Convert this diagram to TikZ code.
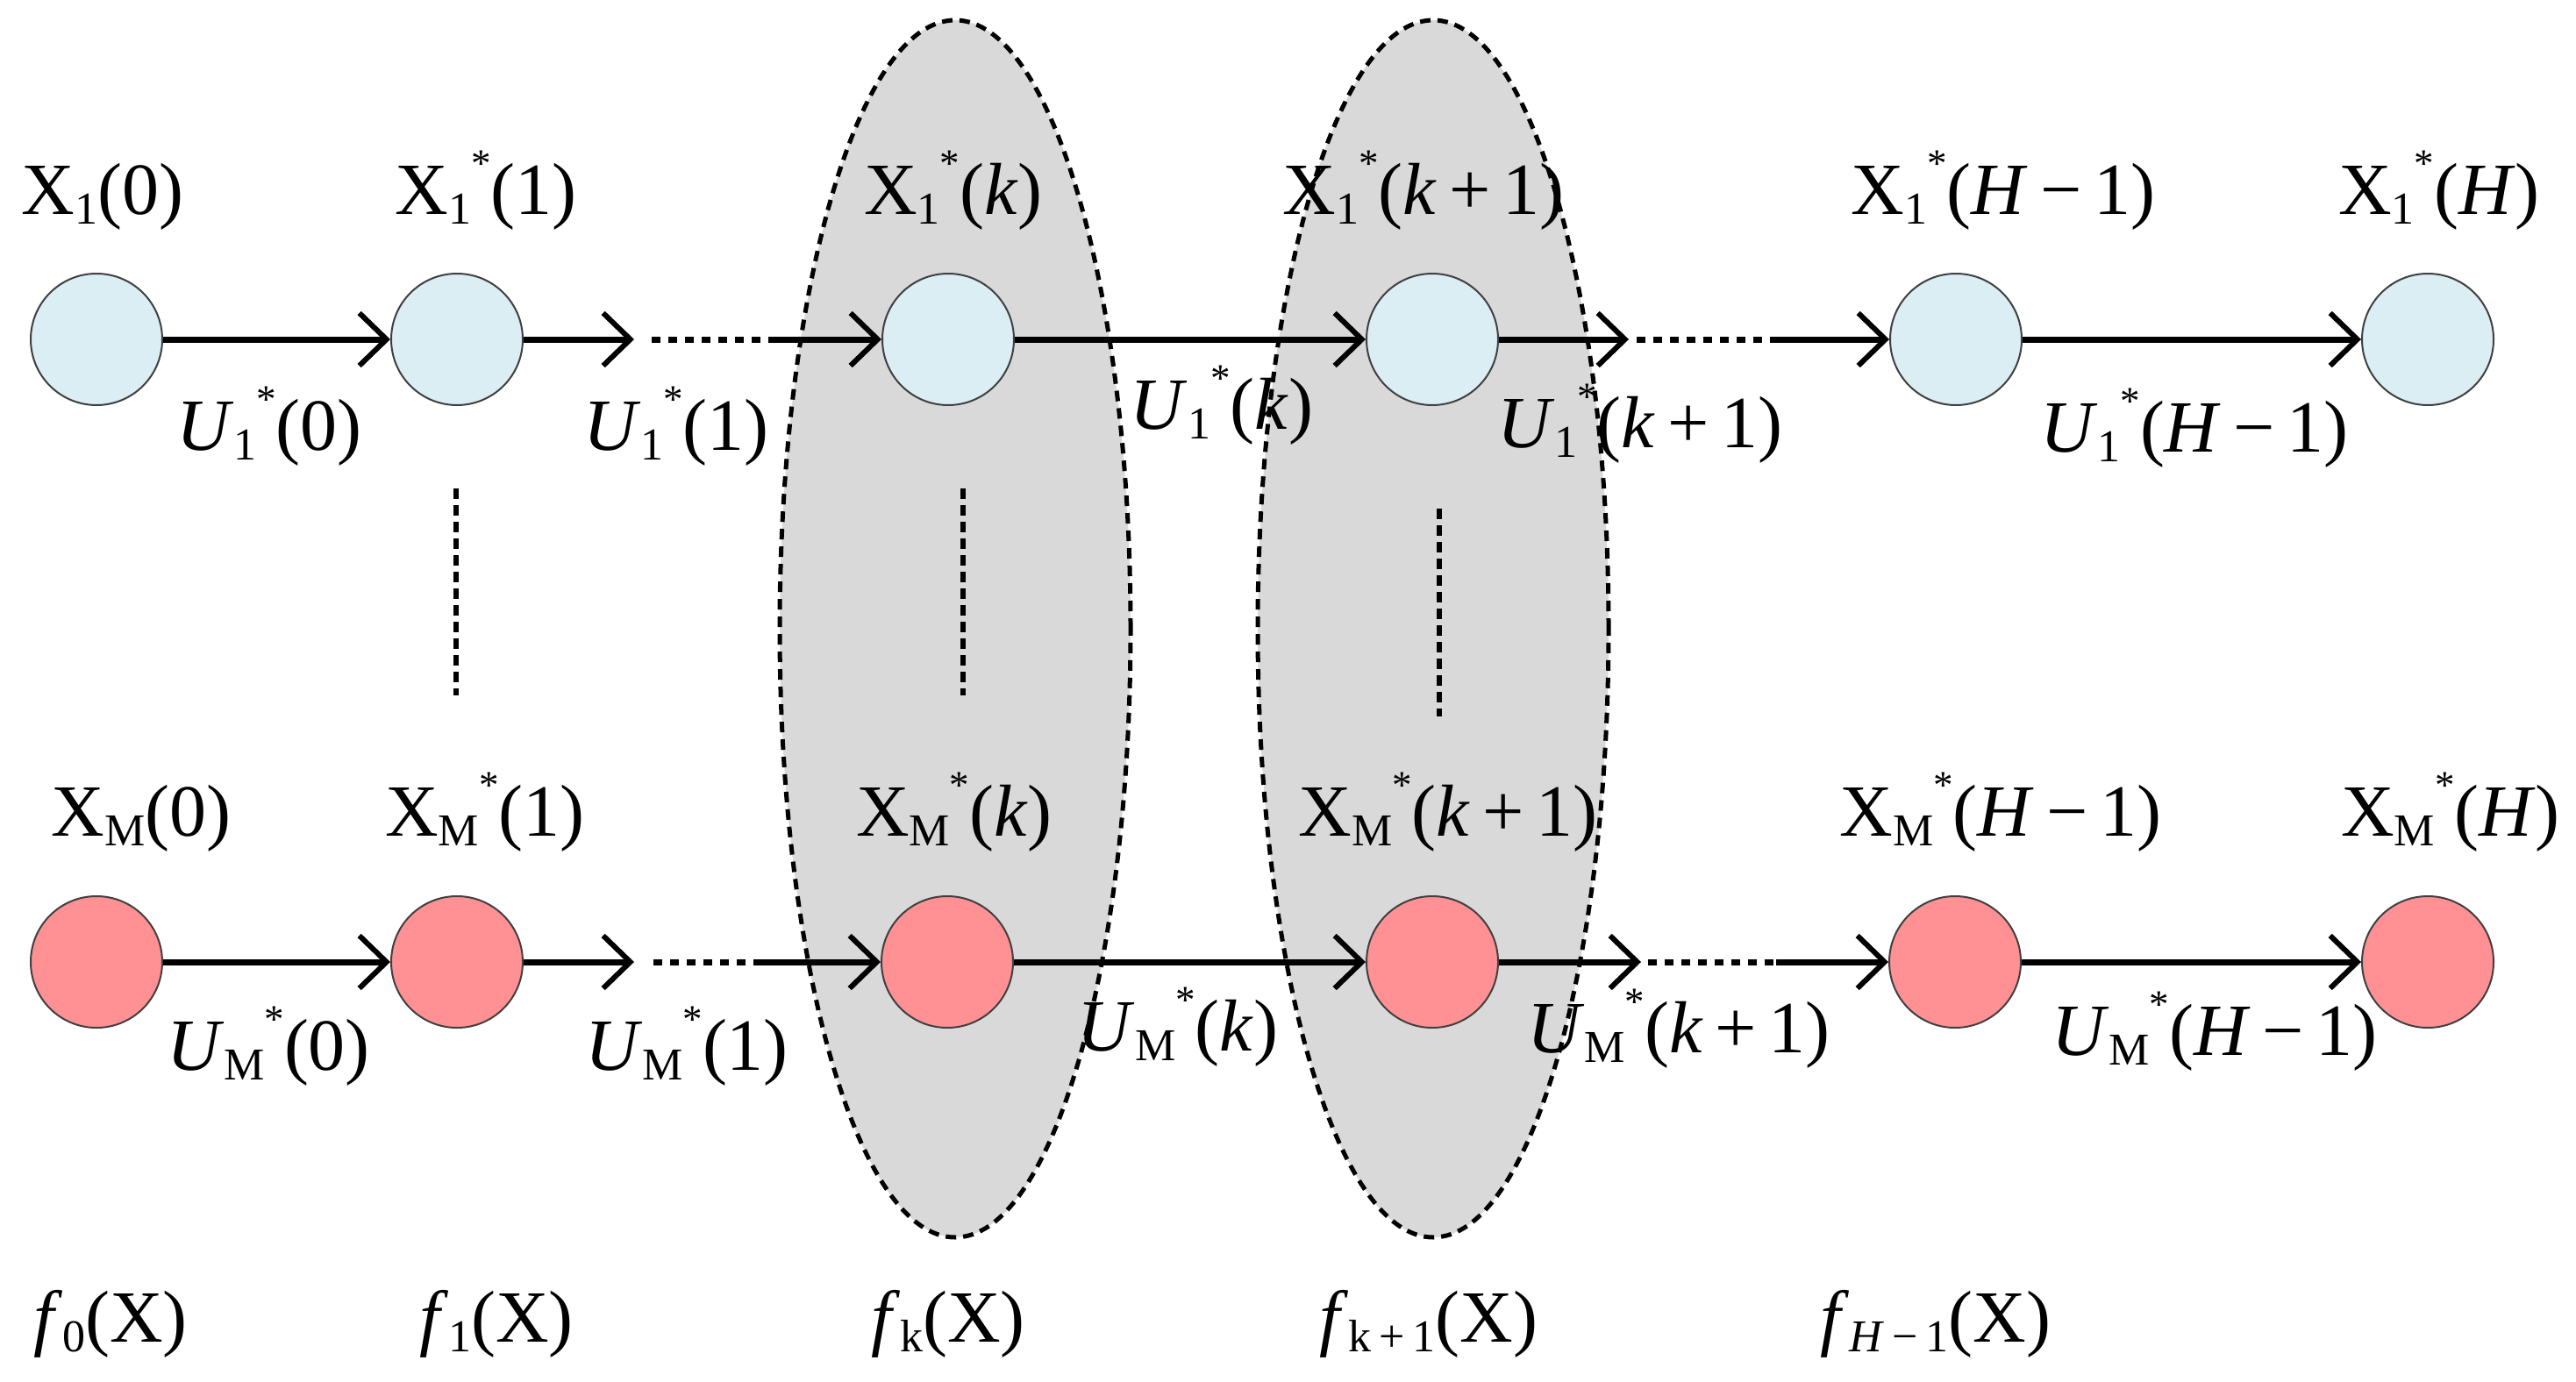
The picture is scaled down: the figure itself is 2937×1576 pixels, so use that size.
\documentclass[tikz,border=0pt]{standalone}
\usepackage{fontspec}
\setmainfont{Liberation Serif}
\usetikzlibrary{arrows.meta,shapes.geometric}
\definecolor{nodeblue}{RGB}{218,238,243}
\definecolor{nodepink}{RGB}{255,145,148}
\definecolor{shadegray}{RGB}{217,217,217}
\newcommand\sbs[1]{\raisebox{-11pt}{\fontsize{52}{52}\selectfont #1}}
\newcommand\starsup{\raisebox{43pt}{\fontsize{45}{45}\selectfont *}}
\begin{document}
\begin{tikzpicture}[x=1pt,y=-1pt,
  topstate/.style={circle,draw=black!75,line width=2pt,minimum size=150pt,inner sep=0pt,fill=nodeblue},
  botstate/.style={circle,draw=black!75,line width=2pt,minimum size=150pt,inner sep=0pt,fill=nodepink},
  lbl/.style={anchor=base,inner sep=0pt,font=\fontsize{84}{90}\selectfont},
  arr/.style={line width=7pt,-{Straight Barb[length=31pt,width=60pt,line width=6pt]}},
  dotseg/.style={line width=7pt,dash pattern=on 10pt off 9pt},
  vdots/.style={line width=5.5pt,dash pattern=on 12pt off 7pt},
  group/.style={ellipse,fill=shadegray,draw=black,line width=5pt,dash pattern=on 12pt off 8pt,minimum width=400pt,minimum height=1388pt,inner sep=0pt}
]
\useasboundingbox (0,0) rectangle (2937,1576);

% shaded groups
\node[group] (E1) at (1089,717) {};
\node[group] (E2) at (1634,717) {};

% top row states
\node[topstate] (a1) at (110,387) {};
\node[topstate] (a2) at (521,387) {};
\node[topstate] (a3) at (1081,387) {};
\node[topstate] (a4) at (1633,387) {};
\node[topstate] (a5) at (2230,387) {};
\node[topstate] (a6) at (2768,387) {};

% bottom row states
\node[botstate] (b1) at (110,1097) {};
\node[botstate] (b2) at (521,1097) {};
\node[botstate] (b3) at (1080,1097) {};
\node[botstate] (b4) at (1633,1097) {};
\node[botstate] (b5) at (2229,1097) {};
\node[botstate] (b6) at (2768,1097) {};

% helper coordinates, top row
\coordinate (ta1) at (723,387);
\coordinate (ta2) at (743,387);
\coordinate (ta3) at (877,387);
\coordinate (ta4) at (1857,387);
\coordinate (ta5) at (1866,387);
\coordinate (ta6) at (2026,387);

% helper coordinates, bottom row
\coordinate (ba1) at (723,1097);
\coordinate (ba2) at (745,1097);
\coordinate (ba3) at (867,1097);
\coordinate (ba4) at (1871,1097);
\coordinate (ba5) at (1879,1097);
\coordinate (ba6) at (2025,1097);

% top row connectors
\draw[arr] (a1) -- (a2);
\draw[arr] (a2) -- (ta1);
\draw[dotseg] (ta2) -- (ta3);
\draw[arr] (ta3) -- (a3);
\draw[arr] (a3) -- (a4);
\draw[arr] (a4) -- (ta4);
\draw[dotseg] (ta5) -- (ta6);
\draw[arr] (ta6) -- (a5);
\draw[arr] (a5) -- (a6);

% bottom row connectors
\draw[arr] (b1) -- (b2);
\draw[arr] (b2) -- (ba1);
\draw[dotseg] (ba2) -- (ba3);
\draw[arr] (ba3) -- (b3);
\draw[arr] (b3) -- (b4);
\draw[arr] (b4) -- (ba4);
\draw[dotseg] (ba5) -- (ba6);
\draw[arr] (ba6) -- (b5);
\draw[arr] (b5) -- (b6);

% vertical dotted lines
\coordinate (v1a) at (520,557);
\coordinate (v1b) at (520,793);
\coordinate (v2a) at (1098,557);
\coordinate (v2b) at (1098,793);
\coordinate (v3a) at (1641,580);
\coordinate (v3b) at (1641,817);
\draw[vdots] (v1a) -- (v1b);
\draw[vdots] (v2a) -- (v2b);
\draw[vdots] (v3a) -- (v3b);

% top state labels
\node[lbl] (xa1) at (117,244) {X\sbs{1}(0)};
\node[lbl] (xa2) at (554,244) {X\sbs{1}\starsup(1)};
\node[lbl] (xa3) at (1087,244) {X\sbs{1}\starsup(\textit{k})};
\node[lbl] (xa4) at (1623,244) {X\sbs{1}\starsup(\textit{k}\,+\,1)};
\node[lbl] (xa5) at (2284,244) {X\sbs{1}\starsup(\textit{H}\,−\,1)};
\node[lbl] (xa6) at (2781,244) {X\sbs{1}\starsup(\textit{H})};

% top control labels
\node[lbl] (ua1) at (307,513) {\textit{U}\sbs{1}\starsup(0)};
\node[lbl] (ua2) at (771,513) {\textit{U}\sbs{1}\starsup(1)};
\node[lbl] (ua3) at (1393,489) {\textit{U}\sbs{1}\starsup(\textit{k})};
\node[lbl] (ua4) at (1870,510) {\textit{U}\sbs{1}\starsup(\textit{k}\,+\,1)};
\node[lbl] (ua5) at (2502,515) {\textit{U}\sbs{1}\starsup(\textit{H}\,−\,1)};

% bottom state labels
\node[lbl] (xb1) at (161,953) {X\sbs{M}(0)};
\node[lbl] (xb2) at (553,953) {X\sbs{M}\starsup(1)};
\node[lbl] (xb3) at (1088,953) {X\sbs{M}\starsup(\textit{k})};
\node[lbl] (xb4) at (1651,953) {X\sbs{M}\starsup(\textit{k}\,+\,1)};
\node[lbl] (xb5) at (2281,953) {X\sbs{M}\starsup(\textit{H}\,−\,1)};
\node[lbl] (xb6) at (2794,953) {X\sbs{M}\starsup(\textit{H})};

% bottom control labels
\node[lbl] (ub1) at (306,1220) {\textit{U}\sbs{M}\starsup(0)};
\node[lbl] (ub2) at (783,1220) {\textit{U}\sbs{M}\starsup(1)};
\node[lbl] (ub3) at (1343,1198) {\textit{U}\sbs{M}\starsup(\textit{k})};
\node[lbl] (ub4) at (1914,1200) {\textit{U}\sbs{M}\starsup(\textit{k}\,+\,1)};
\node[lbl] (ub5) at (2525,1203) {\textit{U}\sbs{M}\starsup(\textit{H}\,−\,1)};

% value function labels
\node[lbl] (f0) at (126,1530) {\textit{f}\sbs{0}(X)};
\node[lbl] (f1) at (566,1530) {\textit{f}\sbs{1}(X)};
\node[lbl] (fk) at (1081,1530) {\textit{f}\sbs{k}(X)};
\node[lbl] (fk1) at (1629,1530) {\textit{f}\sbs{k\,+\,1}(X)};
\node[lbl] (fH) at (2207,1530) {\textit{f}\sbs{\textit{H}\,−\,1}(X)};
\end{tikzpicture}
\end{document}
